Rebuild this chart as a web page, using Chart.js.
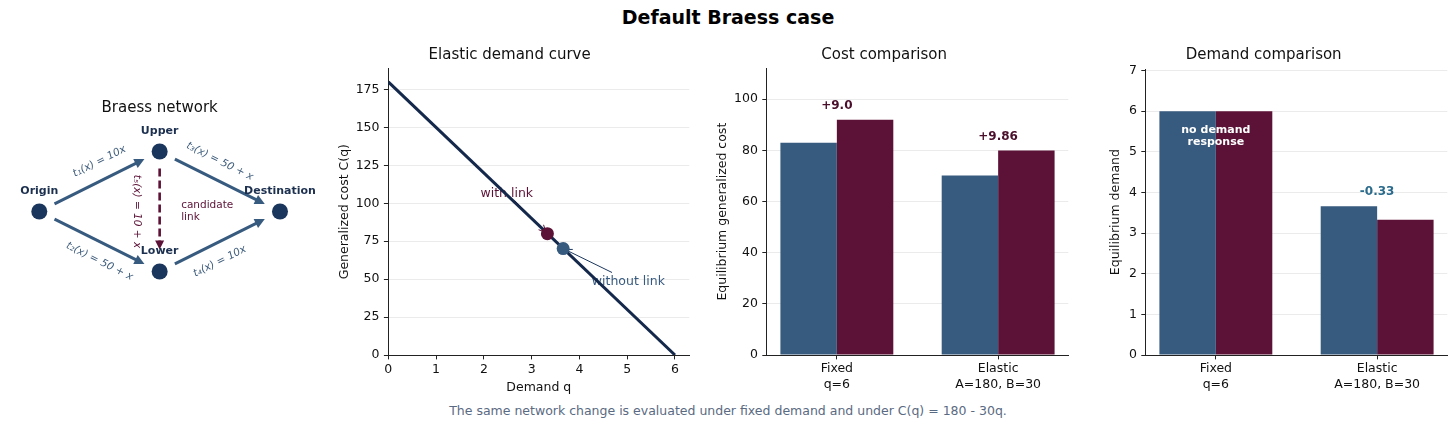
<!DOCTYPE html>
<html>
<head>
<meta charset="utf-8">
<script src="https://cdn.jsdelivr.net/npm/chart.js@4.4.1/dist/chart.umd.min.js"></script>
<style>
  body { margin: 0; width: 1456px; height: 429px; background: #fff; position: relative; overflow: hidden; font-family: 'DejaVu Sans', sans-serif; }
  canvas { position: absolute; }
  #title { position: absolute; left: 0; top: 5px; width: 1456px; text-align: center; font: bold 19px 'DejaVu Sans'; line-height: 24px; color: #000; }
  #note { position: absolute; left: 0; top: 403px; width: 1456px; text-align: center; font: 12.5px 'DejaVu Sans'; line-height: 16px; color: #5a6a82; }
</style>
</head>
<body>
<div id="title">Default Braess case</div>
<canvas id="net" width="330" height="240" style="left:0px;top:90px"></canvas>
<canvas id="curve" width="370" height="360" style="left:330px;top:40px"></canvas>
<canvas id="cost" width="380" height="360" style="left:700px;top:40px"></canvas>
<canvas id="demand" width="376" height="360" style="left:1080px;top:40px"></canvas>
<div id="note">The same network change is evaluated under fixed demand and under C(q) = 180 - 30q.</div>
<script>
// network
const nodeNames = ['Origin', 'Upper', 'Lower', 'Destination'];
const nodeX = [0, 1, 1, 2];
const nodeY = [0, 1, -1, 0];
const edgeFrom = [0, 0, 1, 2];
const edgeTo = [1, 2, 3, 3];
const edgeLabels = ['t\u2081(x) = 10x', 't\u2082(x) = 50 + x', 't\u2083(x) = 50 + x', 't\u2084(x) = 10x'];
const candidateEdge = [1, 2];
const candidateLabel = 't\u2085(x) = 10 + x';

// demand curve C(q) = 180 - 30q
const curveQ = [0, 6];
const curveC = [180, 0];
const eqQ = [3.66, 3.33];     // without link, with link
const eqC = [70.14, 80];
const eqText = ['without link', 'with link'];

// comparisons
const scenarios = [['Fixed', 'q=6'], ['Elastic', 'A=180, B=30']];
const costWithout = [83, 70.14];
const costWith = [92, 80];
const costDeltaLabels = ['+9.0', '+9.86'];
const demandWithout = [6, 3.66];
const demandWith = [6, 3.33];
const demandDeltaLabels = ['no demand\nresponse', '-0.33'];

const curveYTicks = [0, 25, 50, 75, 100, 125, 150, 175];
const curveXTicks = [0, 1, 2, 3, 4, 5, 6];
const costYTicks = [0, 20, 40, 60, 80, 100];
const demandYTicks = [0, 1, 2, 3, 4, 5, 6, 7];

const BLUE = '#375a7f';
const MAROON = '#5c1236';
const NAVY = '#1b365d';
const CURVE = '#14284b';
const INK = '#111111';
const SPINE = '#222222';
const GRID = '#ebebeb';

Chart.defaults.font.family = "'DejaVu Sans', sans-serif";
Chart.defaults.color = INK;
Chart.defaults.animation = false;

function panelTitle(text, top, bottom) {
    return { display: true, text: text, color: INK, font: { size: 15, weight: 'normal' }, padding: { top: top, bottom: bottom } };
}

function yAxis(min, max, ticks, title, titlePad, width) {
    return {
        min: min, max: max,
        afterBuildTicks: s => { s.ticks = ticks.map(v => ({ value: v })); },
        afterFit: s => { s.width = width; },
        grid: { color: GRID, lineWidth: 1, tickColor: SPINE, tickLength: 4.4 },
        border: { color: SPINE, width: 1 },
        ticks: { color: INK, font: { size: 12.5 }, padding: 4.4 },
        title: { display: true, text: title, color: INK, font: { size: 12.5 }, padding: { top: titlePad, bottom: 0 } }
    };
}

function drawArrow(ctx, a, b, sA, sB, color, lw, dash, head) {
    const dx = b[0] - a[0], dy = b[1] - a[1], len = Math.hypot(dx, dy);
    const ux = dx / len, uy = dy / len;
    const x0 = a[0] + ux * sA, y0 = a[1] + uy * sA;
    const x1 = b[0] - ux * sB, y1 = b[1] - uy * sB;
    ctx.strokeStyle = color;
    ctx.fillStyle = color;
    ctx.lineWidth = lw;
    ctx.setLineDash(dash);
    ctx.beginPath();
    ctx.moveTo(x0, y0);
    ctx.lineTo(x1 - ux * head * 0.8, y1 - uy * head * 0.8);
    ctx.stroke();
    ctx.setLineDash([]);
    ctx.beginPath();
    ctx.moveTo(x1, y1);
    ctx.lineTo(x1 - ux * head - uy * head * 0.5, y1 - uy * head + ux * head * 0.5);
    ctx.lineTo(x1 - ux * head + uy * head * 0.5, y1 - uy * head - ux * head * 0.5);
    ctx.closePath();
    ctx.fill();
}

const networkPlugin = {
    id: 'network',
    beforeDatasetsDraw(chart) {
        const { ctx, scales: { x, y } } = chart;
        const px = i => [x.getPixelForValue(nodeX[i]), y.getPixelForValue(nodeY[i])];
        ctx.save();
        edgeFrom.forEach((f, k) => drawArrow(ctx, px(f), px(edgeTo[k]), 17, 17, BLUE, 3, [], 10));
        drawArrow(ctx, px(candidateEdge[0]), px(candidateEdge[1]), 17, 22, MAROON, 2.6, [8, 4], 9);
        ctx.restore();
    },
    afterDatasetsDraw(chart) {
        const { ctx, scales: { x, y } } = chart;
        const px = i => [x.getPixelForValue(nodeX[i]), y.getPixelForValue(nodeY[i])];
        ctx.save();
        ctx.textAlign = 'center';
        ctx.textBaseline = 'middle';
        // edge labels, rotated along the edge
        ctx.fillStyle = '#3f5d7d';
        ctx.font = "italic 10.5px 'DejaVu Sans'";
        edgeFrom.forEach((f, k) => {
            const a = px(f), b = px(edgeTo[k]);
            const mx = (a[0] + b[0]) / 2, my = (a[1] + b[1]) / 2;
            const side = (nodeY[f] + nodeY[edgeTo[k]]) > 0 ? -1 : 1;
            ctx.save();
            ctx.translate(mx, my + side * 20);
            ctx.rotate(Math.atan2(b[1] - a[1], b[0] - a[0]));
            ctx.fillText(edgeLabels[k], 0, 0);
            ctx.restore();
        });
        // candidate link label
        const u = px(candidateEdge[0]), l = px(candidateEdge[1]);
        const midY = (u[1] + l[1]) / 2;
        ctx.fillStyle = MAROON;
        ctx.save();
        ctx.translate(u[0] - 23, midY);
        ctx.rotate(Math.PI / 2);
        ctx.fillText(candidateLabel, 0, 0);
        ctx.restore();
        ctx.font = "10.5px 'DejaVu Sans'";
        ctx.textAlign = 'left';
        ctx.fillText('candidate', u[0] + 21.5, midY - 6);
        ctx.fillText('link', u[0] + 21.5, midY + 5.5);
        // node names
        ctx.textAlign = 'center';
        ctx.fillStyle = '#1b2f4f';
        ctx.font = "bold 11px 'DejaVu Sans'";
        nodeNames.forEach((n, i) => {
            const p = px(i);
            ctx.fillText(n, p[0], p[1] - 20.5);
        });
        ctx.restore();
    }
};

new Chart(document.getElementById('net'), {
    type: 'scatter',
    data: {
        datasets: [{
            data: nodeX.map((v, i) => ({ x: v, y: nodeY[i] })),
            pointRadius: 8,
            pointBackgroundColor: NAVY,
            pointBorderWidth: 0
        }]
    },
    options: {
        responsive: false,
        events: [],
        layout: { autoPadding: false, padding: { left: 3.2, right: 13.9, top: 0, bottom: 25.5 } },
        plugins: {
            legend: { display: false },
            tooltip: { enabled: false },
            title: panelTitle('Braess network', 9, 1.5)
        },
        scales: {
            x: { display: false, min: -0.3, max: 2.3 },
            y: { display: false, min: -1.55, max: 1.55 }
        }
    },
    plugins: [networkPlugin]
});

// small annotation: text at (tx, ty) with an arrow to (px, py)
function annotate(ctx, text, tx, ty, px, py, color, arrowColor) {
    ctx.fillStyle = color;
    ctx.textAlign = 'left';
    ctx.textBaseline = 'alphabetic';
    ctx.font = "12.5px 'DejaVu Sans'";
    ctx.fillText(text, tx, ty);
    const w = ctx.measureText(text).width;
    const cx = tx + w / 2, cy = ty - 4.5;
    const dx = px - cx, dy = py - cy;
    const s = Math.min((w / 2 + 2) / Math.abs(dx), 8 / Math.abs(dy));
    const sx = cx + dx * s, sy = cy + dy * s;
    const len = Math.hypot(px - sx, py - sy);
    const ux = (px - sx) / len, uy = (py - sy) / len;
    const ex = px - ux * 2, ey = py - uy * 2;
    ctx.strokeStyle = arrowColor;
    ctx.lineWidth = 1;
    ctx.beginPath();
    ctx.moveTo(sx, sy);
    ctx.lineTo(ex, ey);
    ctx.moveTo(ex - ux * 7 - uy * 3.5, ey - uy * 7 + ux * 3.5);
    ctx.lineTo(ex, ey);
    ctx.lineTo(ex - ux * 7 + uy * 3.5, ey - uy * 7 - ux * 3.5);
    ctx.stroke();
}

const curveNotes = {
    id: 'curveNotes',
    beforeDatasetsDraw(chart) {
        const { ctx, scales: { x, y } } = chart;
        ctx.save();
        annotate(ctx, eqText[1], x.getPixelForValue(eqQ[1] - 1.4), y.getPixelForValue(eqC[1] + 24),
            x.getPixelForValue(eqQ[1]), y.getPixelForValue(eqC[1]), MAROON, MAROON);
        annotate(ctx, eqText[0], x.getPixelForValue(eqQ[0] + 0.6), y.getPixelForValue(eqC[0] - 24),
            x.getPixelForValue(eqQ[0]), y.getPixelForValue(eqC[0]), BLUE, NAVY);
        ctx.restore();
    }
};

new Chart(document.getElementById('curve'), {
    type: 'scatter',
    data: {
        datasets: [
            { data: [{ x: eqQ[1], y: eqC[1] }], pointRadius: 6.5, pointBackgroundColor: MAROON, pointBorderWidth: 0, order: 0 },
            { data: [{ x: eqQ[0], y: eqC[0] }], pointRadius: 6.5, pointBackgroundColor: BLUE, pointBorderWidth: 0, order: 1 },
            {
                data: curveQ.map((q, i) => ({ x: q, y: curveC[i] })),
                showLine: true, borderColor: CURVE, borderWidth: 3, pointRadius: 0, order: 2
            }
        ]
    },
    options: {
        responsive: false,
        events: [],
        layout: { autoPadding: false, padding: { left: 0, right: 10.7, top: 0, bottom: 0 } },
        plugins: {
            legend: { display: false },
            tooltip: { enabled: false },
            title: panelTitle('Elastic demand curve', 6, 4.3)
        },
        scales: {
            x: {
                type: 'linear', min: 0, max: 6.3,
                afterBuildTicks: s => { s.ticks = curveXTicks.map(v => ({ value: v })); },
                afterFit: s => { s.height = 45; },
                grid: { drawOnChartArea: false, tickColor: SPINE, tickLength: 4.4 },
                border: { color: SPINE, width: 1 },
                ticks: { color: INK, font: { size: 12.5 }, padding: 3 },
                title: { display: true, text: 'Demand q', color: INK, font: { size: 12.5 }, padding: { top: 0, bottom: 4.5 } }
            },
            y: yAxis(0, 189, curveYTicks, 'Generalized cost C(q)', 7.5, 58.3)
        }
    },
    plugins: [curveNotes]
});

function deltaNotes(withArr, withoutArr, labels, color) {
    return {
        id: 'deltaNotes',
        afterDatasetsDraw(chart) {
            const { ctx, scales: { x, y } } = chart;
            ctx.save();
            ctx.textAlign = 'center';
            ctx.textBaseline = 'middle';
            labels.forEach((t, i) => {
                const cx = x.getPixelForValue(i);
                const top = y.getPixelForValue(Math.max(withArr[i], withoutArr[i]));
                if (withArr[i] === withoutArr[i]) {
                    ctx.fillStyle = '#ffffff';
                    ctx.font = "bold 11px 'DejaVu Sans'";
                    t.split('\n').forEach((line, k) => ctx.fillText(line, cx, top + 19 + k * 11.5));
                } else {
                    ctx.fillStyle = color;
                    ctx.font = "bold 12px 'DejaVu Sans'";
                    ctx.fillText(t, cx, top - 14);
                }
            });
            ctx.restore();
        }
    };
}

function barChart(id, title, titleBottom, without, withLink, yMax, yTicks, yTitle, yTitlePad, yWidth, rightPad, notes) {
    return new Chart(document.getElementById(id), {
        type: 'bar',
        data: {
            datasets: [
                { label: 'Without link', data: without.map((v, i) => ({ x: i, y: v })), backgroundColor: BLUE,
                  categoryPercentage: 0.7, barPercentage: 1 },
                { label: 'With link', data: withLink.map((v, i) => ({ x: i, y: v })), backgroundColor: MAROON,
                  categoryPercentage: 0.7, barPercentage: 1 }
            ]
        },
        options: {
            responsive: false,
            events: [],
            layout: { autoPadding: false, padding: { left: 0, right: rightPad, top: 0, bottom: 0 } },
            plugins: {
                legend: { display: false },
                tooltip: { enabled: false },
                title: panelTitle(title, 6, titleBottom)
            },
            scales: {
                x: {
                    type: 'linear', min: -0.435, max: 1.435, offset: false,
                    afterBuildTicks: s => { s.ticks = scenarios.map((c, i) => ({ value: i })); },
                    afterFit: s => { s.height = 45; },
                    grid: { drawOnChartArea: false, offset: false, tickColor: SPINE, tickLength: 4.4 },
                    border: { color: SPINE, width: 1 },
                    ticks: { color: INK, font: { size: 12.5, lineHeight: 1.25 }, padding: 2, callback: v => scenarios[v] }
                },
                y: yAxis(0, yMax, yTicks, yTitle, yTitlePad, yWidth)
            }
        },
        plugins: [notes]
    });
}

barChart('cost', 'Cost comparison', 4.3, costWithout, costWith, 112.1, costYTicks,
    'Equilibrium generalized cost', 15.2, 66.7, 11.7, deltaNotes(costWith, costWithout, costDeltaLabels, '#4a0f2b'));
barChart('demand', 'Demand comparison', 5.3, demandWithout, demandWith, 7.03, demandYTicks,
    'Equilibrium demand', 28.2, 65.7, 8.7, deltaNotes(demandWith, demandWithout, demandDeltaLabels, '#2a6b8c'));
</script>
</body>
</html>
